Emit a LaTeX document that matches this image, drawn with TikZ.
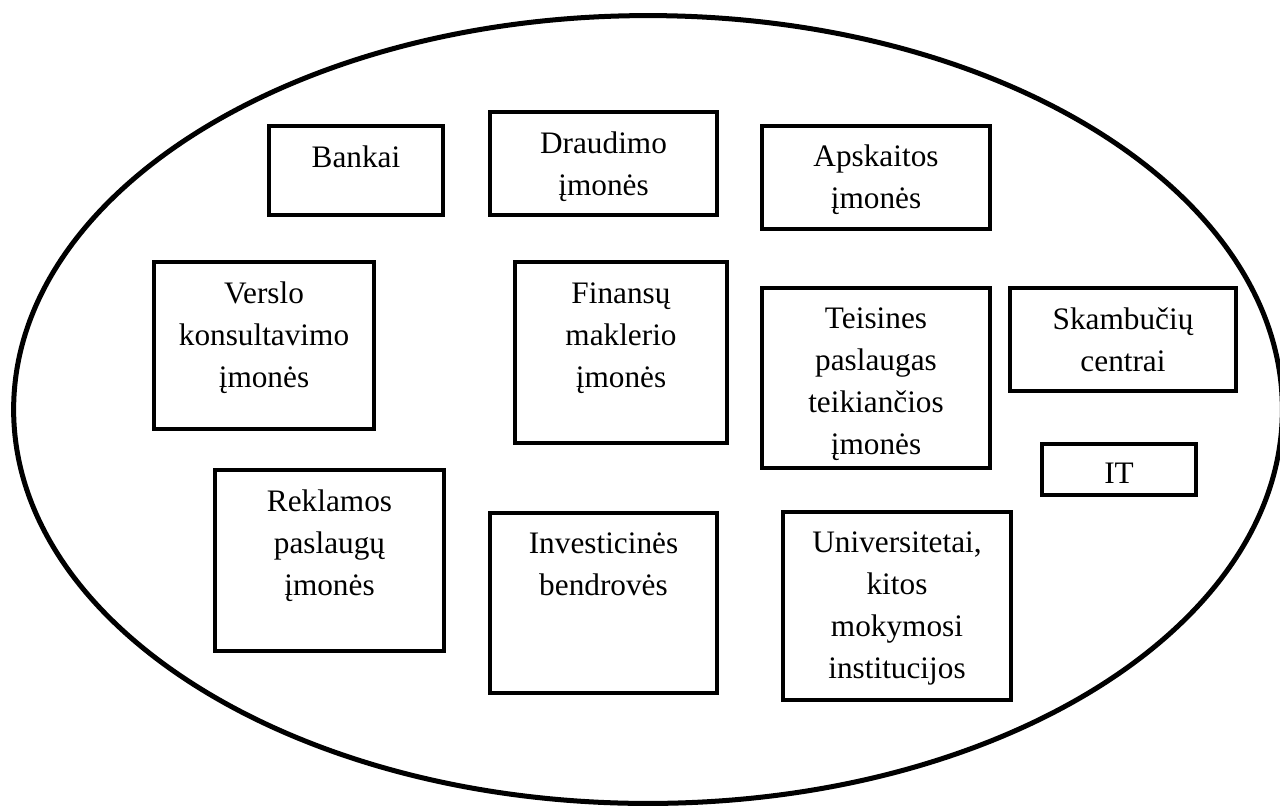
\documentclass[tikz,border=0pt]{standalone}
\usepackage{fontspec}
\setmainfont{Liberation Serif}
\tikzset{
  box/.style={line width=2.6pt},
  oval/.style={line width=2.85pt},
  lbl/.style={align=center, anchor=base, inner sep=0pt, font=\fontsize{17.8}{23.8}\selectfont}
}
\begin{document}
\begin{tikzpicture}[x=0.02cm, y=-0.02cm]
    \useasboundingbox (0,0) rectangle (1280,809);
    % Ellipse %
    \draw[oval] (648,409.5) ellipse [x radius=12.69cm, y radius=7.88cm];

    % Top row %
    \draw[box] (269,126) rectangle (443,215);
    \node[lbl] (bankai) at (356,167) {Bankai};
    \draw[box] (490,112) rectangle (717,215);
    \node[lbl] (draudimo) at (603.5,195) {Draudimo\\įmonės};
    \draw[box] (762,126) rectangle (990,229);
    \node[lbl] (apskaita) at (876,208) {Apskaitos\\įmonės};

    % Middle row %
    \draw[box] (154,262) rectangle (374,429);
    \node[lbl] (verslas) at (264,387) {Verslo\\konsultavimo\\įmonės};
    \draw[box] (515,262) rectangle (727,443);
    \node[lbl] (finansai) at (621,387) {Finansų\\maklerio\\įmonės};
    \draw[box] (762,288) rectangle (990,468);
    \node[lbl] (teise) at (876,454) {Teisines\\paslaugas\\teikiančios\\įmonės};
    \draw[box] (1010,288) rectangle (1236,391);
    \node[lbl] (skambuciai) at (1123,371) {Skambučių\\centrai};
    \draw[box] (1042,444) rectangle (1196,495);
    \node[lbl] (it) at (1119,483) {IT};

    % Bottom row %
    \draw[box] (215,470) rectangle (444,651);
    \node[lbl] (reklama) at (329.5,595) {Reklamos\\paslaugų\\įmonės};
    \draw[box] (490,513) rectangle (717,693);
    \node[lbl] (investicijos) at (603.5,595) {Investicinės\\bendrovės};
    \draw[box] (783,512) rectangle (1011,700);
    \node[lbl] (mokslas) at (897,678) {Universitetai,\\kitos\\mokymosi\\institucijos};
\end{tikzpicture}
\end{document}
